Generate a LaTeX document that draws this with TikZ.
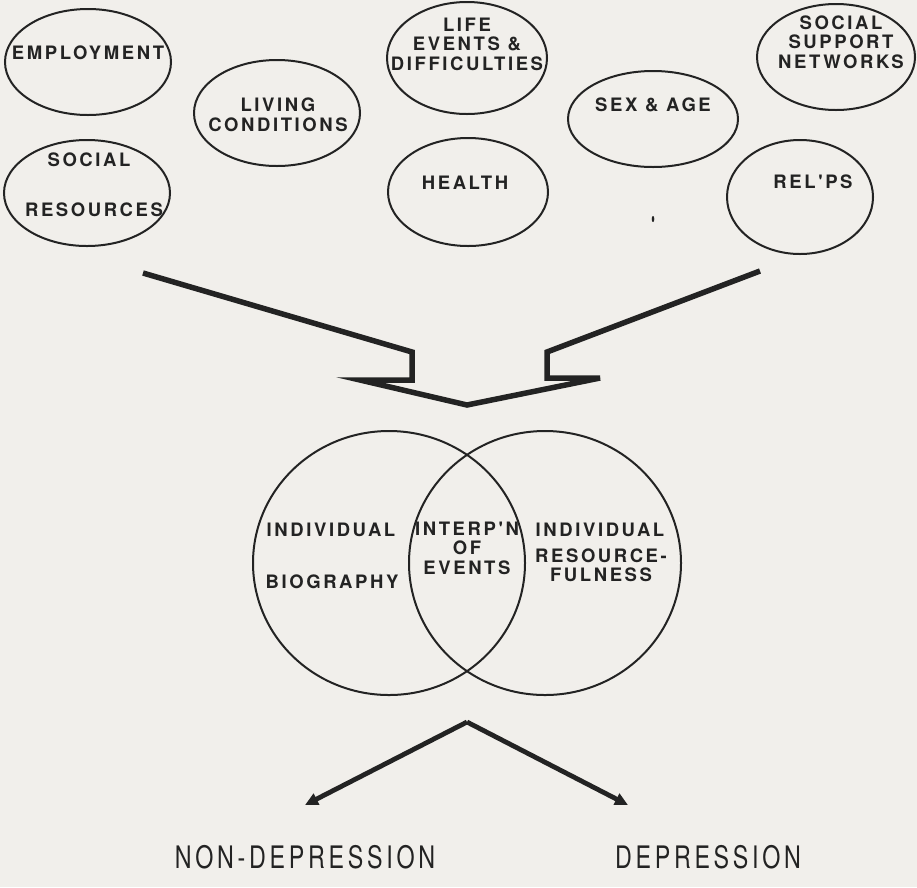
\documentclass[tikz,border=0pt]{standalone}
\usepackage{fontspec}
\usetikzlibrary{shapes.geometric,arrows.meta}
\newfontfamily\ovalfont[LetterSpace=14]{TeX Gyre Heros}
\newfontfamily\outfont[LetterSpace=12,FakeStretch=0.75]{TeX Gyre Heros}
\definecolor{paper}{RGB}{241,239,235}
\definecolor{ink}{RGB}{35,35,35}
\begin{document}
\begin{tikzpicture}[x=1pt,y=-1pt,
  oval/.style={draw=ink,line width=2pt,ellipse,inner sep=0pt},
  lab/.style={text=ink,font=\ovalfont\bfseries\fontsize{18.5}{19.5}\selectfont,inner sep=0pt,align=center},
  outlab/.style={text=ink,font=\outfont\fontsize{31}{32}\selectfont,inner sep=0pt},
  funnel/.style={draw=ink,line width=5.5pt,line join=miter},
  outarrow/.style={draw=ink,line width=4.8pt,-{Triangle[length=13pt,width=12pt]}}]
\fill[paper] (0,0) rectangle (917,887);
\useasboundingbox (0,0) rectangle (917,887);

% factor ovals
\node[oval,minimum width=166pt,minimum height=106pt] (emp) at (88,62) {};
\node[lab] (empt) at (88,53) {EMPLOYMENT};
\node[oval,minimum width=166pt,minimum height=106pt] (liv) at (277,113) {};
\node[lab] (livt) at (278,115) {LIVING\\CONDITIONS};
\node[oval,minimum width=166pt,minimum height=106pt] (soc) at (87,193) {};
\node[lab] (soct1) at (89,160) {SOCIAL};
\node[lab] (soct2) at (94,210) {RESOURCES};
\node[oval,minimum width=160pt,minimum height=112pt] (life) at (467,58) {};
\node[lab] (lifet) at (467,44) {LIFE\\EVENTS \&\\DIFFICULTIES};
\node[oval,minimum width=160pt,minimum height=108pt] (hlth) at (468,192) {};
\node[lab] (hlptht) at (465,183) {HEALTH};
\node[oval,minimum width=170pt,minimum height=96pt] (sex) at (653,119) {};
\node[lab] (sext) at (653,105) {SEX \& AGE};
\node[oval,minimum width=158pt,minimum height=106pt] (ssn) at (836,57) {};
\node[lab] (ssnt) at (841,42) {SOCIAL\\SUPPORT\\NETWORKS};
\node[oval,minimum width=146pt,minimum height=114pt] (rel) at (800,197) {};
\node[lab] (relt) at (813,182) {REL'PS};
\fill[ink] (653,219) ellipse (1.3pt and 3pt);

% funnel arrow
\coordinate (f1) at (143,273);
\coordinate (f2) at (412,352);
\coordinate (f3) at (412,380);
\coordinate (f4) at (360,380);
\coordinate (apex) at (467,405);
\coordinate (f6) at (600,378);
\coordinate (f7) at (547,378);
\coordinate (f8) at (547,352);
\coordinate (f9) at (760,271);
\draw[funnel] (f1) -- (f2) -- (f3) -- (f4) -- (apex) -- (f6) -- (f7) -- (f8) -- (f9);

% Venn diagram
\node[oval,minimum width=272pt,minimum height=264pt] (bio) at (389,563) {};
\node[oval,minimum width=272pt,minimum height=264pt] (res) at (545,563) {};
\node[lab] (biot1) at (331,530) {INDIVIDUAL};
\node[lab] (biot2) at (332,582) {BIOGRAPHY};
\node[lab] (intt) at (467,548) {INTERP'N\\OF\\EVENTS};
\node[lab] (rest1) at (600,530) {INDIVIDUAL};
\node[lab] (rest2) at (601,565) {RESOURCE-\\FULNESS};

% outcomes
\coordinate (split) at (467,722);
\coordinate (tipL) at (305,805);
\coordinate (tipR) at (628,805);
\draw[outarrow] (split) -- (tipL);
\draw[outarrow] (split) -- (tipR);
\node[outlab] (nondep) at (305,857) {NON-DEPRESSION};
\node[outlab] (dep) at (708,857) {DEPRESSION};
\end{tikzpicture}
\end{document}
